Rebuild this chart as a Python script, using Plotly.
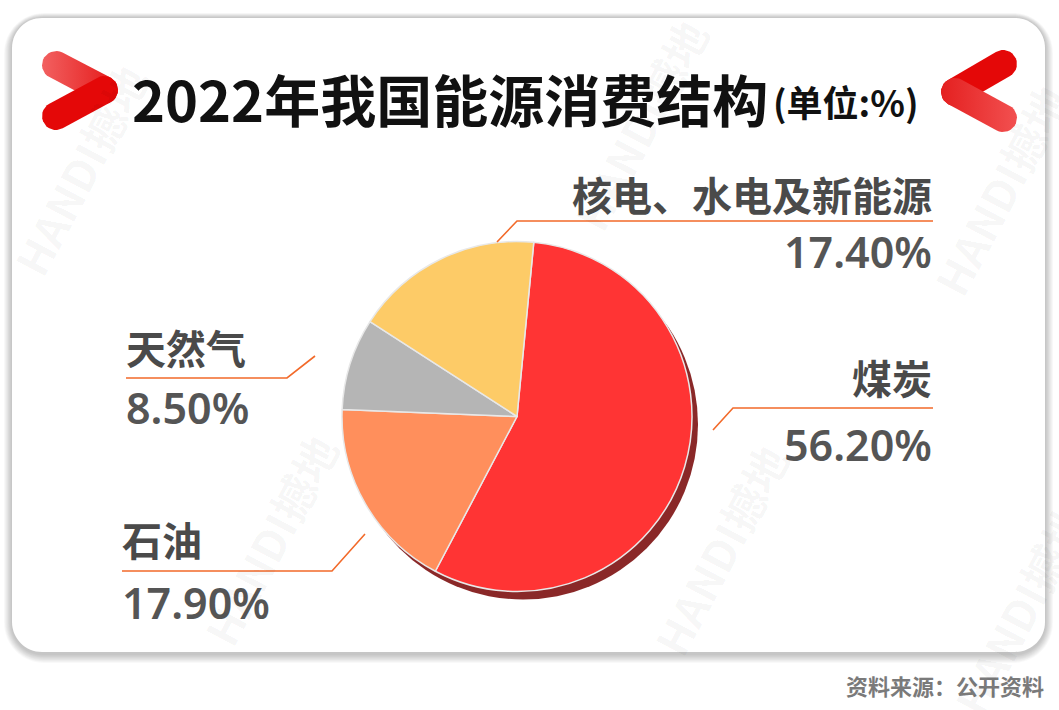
import numpy as np
import plotly.graph_objects as go

# ---------------- data ----------------
categories = ["煤炭", "石油", "天然气", "核电、水电及新能源"]
shares = [56.2, 17.9, 8.5, 17.4]
pct_labels = ["56.20%", "17.90%", "8.50%", "17.40%"]
slice_colors = ["#ff3434", "#ff8f5c", "#b5b5b5", "#fdcb67"]
title_main = "2022年我国能源消费结构"
title_unit = "(单位:%)"
source_text = "资料来源：公开资料"
watermark_text = "HANDI撼地"

W, H = 1059, 710
FONT = "Noto Sans CJK SC"

# ---------------- layout helpers (pixel space) ----------------
def rounded_rect(x0, y0, x1, y1, r):
    k = 0.5523 * r
    return (f"M {x0+r},{y0} L {x1-r},{y0} C {x1-r+k},{y0} {x1},{y0+r-k} {x1},{y0+r} "
            f"L {x1},{y1-r} C {x1},{y1-r+k} {x1-r+k},{y1} {x1-r},{y1} "
            f"L {x0+r},{y1} C {x0+r-k},{y1} {x0},{y1-r+k} {x0},{y1-r} "
            f"L {x0},{y0+r} C {x0},{y0+r-k} {x0+r-k},{y0} {x0+r},{y0} Z")

def capsule(p, q, rad, n=16):
    p = np.array(p, float); q = np.array(q, float)
    d = q - p; d /= np.linalg.norm(d)
    ang0 = np.arctan2(d[1], d[0])
    pts = []
    for a in np.linspace(ang0 - np.pi / 2, ang0 + np.pi / 2, n):
        pts.append(q + rad * np.array([np.cos(a), np.sin(a)]))
    for a in np.linspace(ang0 + np.pi / 2, ang0 + 3 * np.pi / 2, n):
        pts.append(p + rad * np.array([np.cos(a), np.sin(a)]))
    pts.append(pts[0])
    pts = np.array(pts)
    return pts[:, 0], pts[:, 1]

fig = go.Figure()
shapes = []

# card shadow + card
card = (12, 18, 1045, 652)
for i in range(10, 0, -1):
    shapes.append(dict(type="path", layer="below", xref="x", yref="y",
                       path=rounded_rect(card[0] - i * 0.8, card[1] - i * 0.5,
                                         card[2] + i * 0.8, card[3] + i * 0.9 + 2, 30 + i),
                       fillcolor="rgba(0,0,0,0.024)", line=dict(width=0)))
shapes.append(dict(type="path", layer="below", xref="x", yref="y",
                   path=rounded_rect(*card, 30), fillcolor="white", line=dict(width=0)))

# chevrons (decorative)
def add_arm(p, q, col0, col1):
    xs, ys = capsule(p, q, 14)
    fig.add_trace(go.Scatter(x=xs, y=ys, mode="lines", fill="toself", line=dict(width=0),
                             fillgradient=dict(type="horizontal",
                                               colorscale=[[0, col0], [1, col1]]),
                             hoverinfo="skip", showlegend=False))

add_arm((56, 65), (104, 90), "#f26060", "#e41818")
add_arm((104, 90), (56, 116), "#e40808", "#e40808")
add_arm((955, 92), (1003, 64), "#e40808", "#e40808")
add_arm((1003, 118), (955, 92), "#e42020", "#f25050")

# ---------------- pie ----------------
cx, cy, r = 517, 416.5, 175
dx0, dx1 = (cx - r) / W, (cx + r) / W
dy0, dy1 = 1 - (cy + r) / H, 1 - (cy - r) / H
sx, sy = 6 / W, 8 / H
fig.add_trace(go.Pie(values=[1], marker=dict(colors=["#8a2828"], line=dict(width=0)),
                     domain=dict(x=[dx0 + sx, dx1 + sx], y=[dy0 - sy, dy1 - sy]),
                     textinfo="none", hoverinfo="skip", showlegend=False, sort=False))
fig.add_trace(go.Pie(labels=categories, values=shares, sort=False, direction="clockwise",
                     rotation=5.5,
                     marker=dict(colors=slice_colors, line=dict(color="#e8e8e8", width=1.5)),
                     domain=dict(x=[dx0, dx1], y=[dy0, dy1]),
                     textinfo="none", hoverinfo="label+value", showlegend=False))

# ---------------- labels with leader lines ----------------
label_pos = {
    "煤炭": dict(side="right", name_y=377, line_y=408, pct_y=444, x_out=933, x_in=733, tip=(713, 430)),
    "石油": dict(side="left", name_y=539, line_y=571, pct_y=602, x_out=122, x_in=332, tip=(365, 534)),
    "天然气": dict(side="left", name_y=347, line_y=378, pct_y=407, x_out=126, x_in=287, tip=(315, 356)),
    "核电、水电及新能源": dict(side="right", name_y=194, line_y=221, pct_y=251, x_out=933, x_in=517, tip=(497, 242)),
}
annotations = []
for name, pct in zip(categories, pct_labels):
    lp = label_pos[name]
    shapes.append(dict(type="path", xref="x", yref="y", layer="above",
                       path=f"M {lp['x_out']},{lp['line_y']} L {lp['x_in']},{lp['line_y']} "
                            f"L {lp['tip'][0]},{lp['tip'][1]}",
                       line=dict(color="#f26a2a", width=1.6)))
    anchor = "right" if lp["side"] == "right" else "left"
    tx = lp["x_out"] + (1 if anchor == "right" else -2)
    annotations.append(dict(x=tx, y=lp["name_y"], xref="x", yref="y", text=name,
                            xanchor=anchor, yanchor="middle", showarrow=False,
                            font=dict(family=FONT, size=40, color="#4a4a4a", weight="bold")))
    annotations.append(dict(x=tx, y=lp["pct_y"], xref="x", yref="y", text=pct,
                            xanchor=anchor, yanchor="middle", showarrow=False,
                            font=dict(family="Noto Sans, " + FONT, size=43, color="#555555",
                                      weight=600)))

# title
annotations.append(dict(x=130, y=97, xref="x", yref="y", text=title_main, xanchor="left",
                        yanchor="middle", showarrow=False,
                        font=dict(family=FONT, size=56, color="#111111", weight="bold")))
annotations.append(dict(x=921, y=101, xref="x", yref="y", text=title_unit, xanchor="right",
                        yanchor="middle", showarrow=False,
                        font=dict(family=FONT, size=36, color="#111111", weight="bold")))
# source
annotations.append(dict(x=1046, y=685, xref="x", yref="y", text=source_text, xanchor="right",
                        yanchor="middle", showarrow=False,
                        font=dict(family=FONT, size=22, color="#7a7a7a", weight="bold")))

# watermarks
for (wx, wy) in [(80, 170), (640, 125), (1000, 190), (270, 540), (720, 550), (1020, 610)]:
    annotations.append(dict(x=wx, y=wy, xref="x", yref="y", text=watermark_text,
                            textangle=-62, showarrow=False,
                            font=dict(family=FONT, size=44, color="rgba(0,0,0,0.04)",
                                      weight="bold")))

fig.update_layout(
    width=W, height=H, margin=dict(l=0, r=0, t=0, b=0),
    paper_bgcolor="white", plot_bgcolor="rgba(0,0,0,0)",
    xaxis=dict(range=[0, W], visible=False, fixedrange=True),
    yaxis=dict(range=[H, 0], visible=False, fixedrange=True),
    shapes=shapes, annotations=annotations, showlegend=False,
)
fig.write_html("out.html", config={"displayModeBar": False},
               post_script="document.body.style.margin='0';document.body.style.overflow='hidden';")
